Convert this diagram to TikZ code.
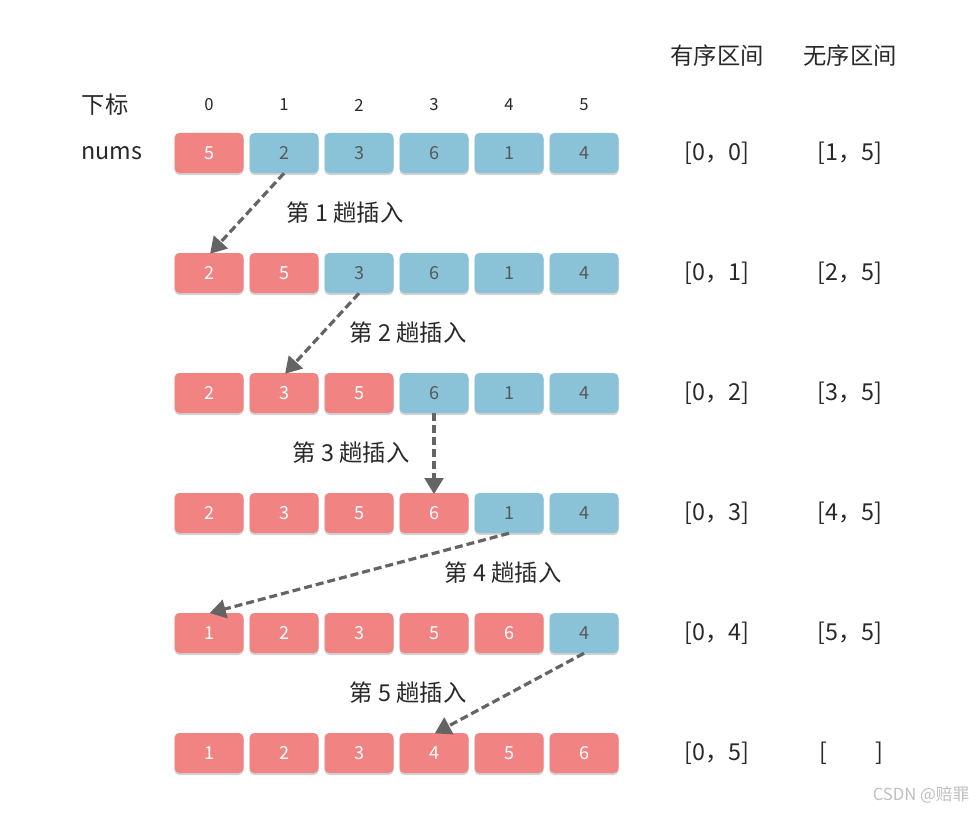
\documentclass[tikz,border=0pt]{standalone}
\usepackage{fontspec}
\setmainfont{Noto Sans CJK SC}
\usetikzlibrary{arrows.meta, shadows}
\definecolor{sortedred}{RGB}{241,131,131}
\definecolor{restblue}{RGB}{138,194,216}
\definecolor{arrowgray}{RGB}{100,100,100}
\definecolor{textgray}{RGB}{40,40,40}
\tikzset{
cellbase/.style={minimum width=51.75pt, minimum height=30pt, rounded corners=3.5pt,
  inner sep=0pt, font=\fontsize{13.5}{15}\selectfont,
  drop shadow={shadow xshift=0pt, shadow yshift=-1.5pt, opacity=0.35}}, % common cell look
cellred/.style={cellbase, fill=sortedred, text=white},   % sorted part
cellblue/.style={cellbase, fill=restblue, text=black!65}, % unsorted part
passlabel/.style={font=\fontsize{17.5}{20}\selectfont, text=textgray},
rangetext/.style={font=\fontsize{17.5}{20}\selectfont, text=textgray},
movearrow/.style={draw=arrowgray, line width=2.4pt, dash pattern=on 6pt off 3pt,
  -{Triangle[width=14pt, length=12pt]}, shorten >=-1pt},
}

\begin{document}
\begin{tikzpicture}[x=0.75pt, y=-0.75pt]
  \useasboundingbox (0,0) rectangle (980,813);

  % headers
  \node[passlabel] (hidx) at (105,105) {下标};
  \node[passlabel] (hnums) at (112,153) {nums};
  \node[passlabel] (hsorted) at (717,56) {有序区间};
  \node[passlabel] (hrest) at (850,56) {无序区间};
  \foreach \i in {0,...,5}
    \node[font=\fontsize{12.5}{14}\selectfont, text=textgray] (idx-\i) at (209+75*\i,105) {\i};

  % rows of cells
  \foreach \r/\vals in {0/{5,2,3,6,1,4}, 1/{2,5,3,6,1,4}, 2/{2,3,5,6,1,4},
                        3/{2,3,5,6,1,4}, 4/{1,2,3,5,6,4}, 5/{1,2,3,4,5,6}}{
    \foreach \v [count=\i from 0] in \vals {
      \ifnum\i>\r \def\sty{cellblue}\else\def\sty{cellred}\fi
      \node[\sty] (c-\r-\i) at (209+75*\i,153+120*\r) {\v};
    }
  }

  % ranges
  \node[rangetext] (s-0) at (717,153) {[0，0]};
  \node[rangetext] (u-0) at (850,153) {[1，5]};
  \node[rangetext] (s-1) at (717,273) {[0，1]};
  \node[rangetext] (u-1) at (850,273) {[2，5]};
  \node[rangetext] (s-2) at (717,393) {[0，2]};
  \node[rangetext] (u-2) at (850,393) {[3，5]};
  \node[rangetext] (s-3) at (717,513) {[0，3]};
  \node[rangetext] (u-3) at (850,513) {[4，5]};
  \node[rangetext] (s-4) at (717,633) {[0，4]};
  \node[rangetext] (u-4) at (850,633) {[5，5]};
  \node[rangetext] (s-5) at (717,753) {[0，5]};
  \node[rangetext] (u-5) at (851,753) {[\hspace{36pt}]};

  % passes
  \node[passlabel] (p-1) at (345,213) {第 1 趟插入};
  \node[passlabel] (p-2) at (408,333) {第 2 趟插入};
  \node[passlabel] (p-3) at (351,453) {第 3 趟插入};
  \node[passlabel] (p-4) at (503,573) {第 4 趟插入};
  \node[passlabel] (p-5) at (408,693) {第 5 趟插入};

  \draw[movearrow] (c-0-1.south) -- ([xshift=1.5pt]c-1-0.north);
  \draw[movearrow] (c-1-2.south) -- ([xshift=1.5pt]c-2-1.north);
  \draw[movearrow] (c-2-3.south) -- (c-3-3.north);
  \draw[movearrow] (c-3-4.south) -- ([xshift=1.5pt]c-4-0.north);
  \draw[movearrow] (c-4-5.south) -- ([xshift=1.5pt]c-5-3.north);

  \node[font=\fontsize{12.5}{14}\selectfont, text=black!25] (mark) at (921,795) {CSDN @赔罪};
\end{tikzpicture}
\end{document}
